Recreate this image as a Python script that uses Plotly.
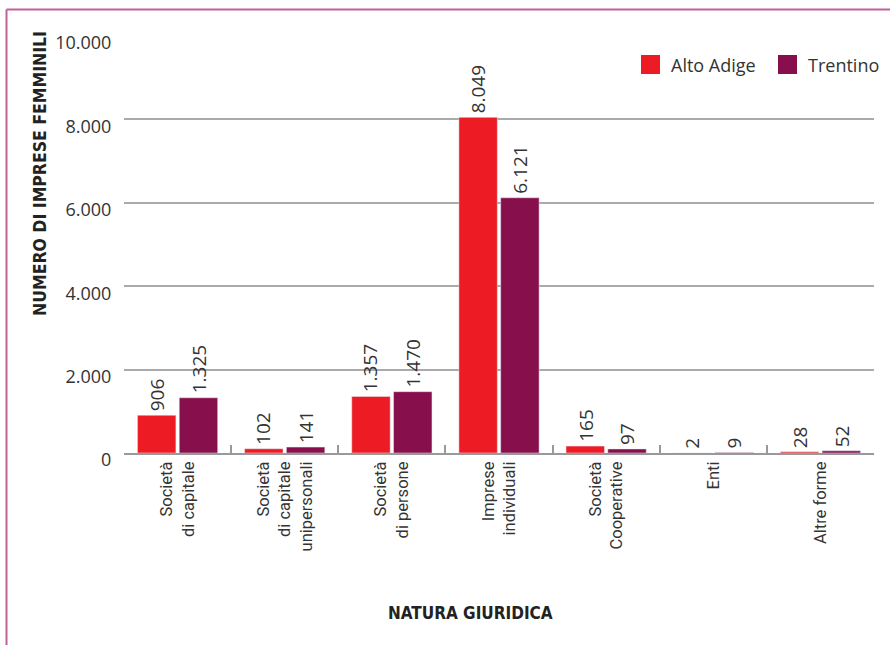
import plotly.graph_objects as go

categories = ["Società<br>di capitale", "Società<br>di capitale<br>unipersonali", "Società<br>di persone",
              "Imprese<br>individuali", "Società<br>Cooperative", "Enti", "Altre forme"]
alto_adige = [906, 102, 1357, 8049, 165, 2, 28]
trentino = [1325, 141, 1470, 6121, 97, 9, 52]
series_names = ["Alto Adige", "Trentino"]
series_colors = ["#ED1C24", "#870F4B"]
y_ticks = [0, 2000, 4000, 6000, 8000, 10000]

W, H = 890, 645
ML, MR, MT, MB = 124, 16, 36, 192
PW, PH = W - ML - MR, H - MT - MB

font_main = "Open Sans"
fig = go.Figure()
for name, vals, col in zip(series_names, [alto_adige, trentino], series_colors):
    fig.add_trace(go.Bar(x=categories, y=vals, name=name, marker_color=col, showlegend=False))

def px_x(p):
    return (p - ML) / PW

def px_y(p):
    return (H - MB - p) / PH

annotations = []
for vals, shift in [(alto_adige, -21), (trentino, 21)]:
    for cat, v in zip(categories, vals):
        annotations.append(dict(x=cat, y=v, xref="x", yref="y", text=f"{v:,}".replace(",", "."),
                                textangle=-90, showarrow=False, xanchor="center", yanchor="bottom",
                                xshift=shift, yshift=2,
                                font=dict(size=19, color="#333333", family=font_main)))

annotations += [
    dict(text="<b>NUMERO DI IMPRESE FEMMINILI</b>", xref="paper", yref="paper",
         x=px_x(40), y=px_y(174), textangle=-90, showarrow=False,
         font=dict(size=17.5, color="#222222", family="DejaVu Sans Condensed"),
         xanchor="center", yanchor="middle"),
    dict(text="<b>NATURA GIURIDICA</b>", xref="paper", yref="paper",
         x=px_x(470), y=px_y(613), showarrow=False,
         font=dict(size=17, color="#222222", family="DejaVu Sans Condensed"),
         xanchor="center", yanchor="middle"),
]

shapes = [
    dict(type="line", xref="paper", yref="paper", x0=px_x(6.5), x1=px_x(W), y0=px_y(9.5), y1=px_y(9.5),
         line=dict(color="#C0619A", width=2)),
    dict(type="line", xref="paper", yref="paper", x0=px_x(6.5), x1=px_x(6.5), y0=px_y(9.5), y1=px_y(H),
         line=dict(color="#C0619A", width=2)),
]

# manual legend (large square swatches)
legend_x = [641, 778]
for name, col, lx in zip(series_names, series_colors, legend_x):
    shapes.append(dict(type="rect", xref="paper", yref="paper", x0=px_x(lx), x1=px_x(lx + 19),
                       y0=px_y(74), y1=px_y(55), fillcolor=col, line=dict(width=0)))
    annotations.append(dict(text=name, xref="paper", yref="paper", x=px_x(lx + 28), y=px_y(65),
                            xanchor="left", yanchor="middle", showarrow=False,
                            font=dict(size=18, color="#333333", family=font_main)))

fig.update_layout(
    width=W, height=H,
    margin=dict(l=ML, r=MR, t=MT, b=MB),
    paper_bgcolor="white", plot_bgcolor="white",
    separators=",.",
    barmode="group", bargap=0.22, bargroupgap=0.08,
    font=dict(family=font_main, size=16, color="#333333"),
    showlegend=False,
    xaxis=dict(showline=True, linecolor="#999999", linewidth=2, ticks="inside",
               tickson="boundaries", ticklen=8, tickwidth=2, tickcolor="#999999",
               tickangle=-90, tickfont=dict(size=16.5, color="#333333", family="Roboto"), showgrid=False),
    yaxis=dict(range=[0, 10000], tickvals=y_ticks, tickformat=",d", showgrid=True,
               gridcolor="#AAAAAA", gridwidth=1.5, zeroline=False, showline=False,
               ticks="outside", ticklen=8, tickcolor="rgba(0,0,0,0)", ticklabelshift=7,
               tickfont=dict(size=18, color="#333333")),
    shapes=shapes,
    annotations=annotations,
)

fig.write_html("out.html")
